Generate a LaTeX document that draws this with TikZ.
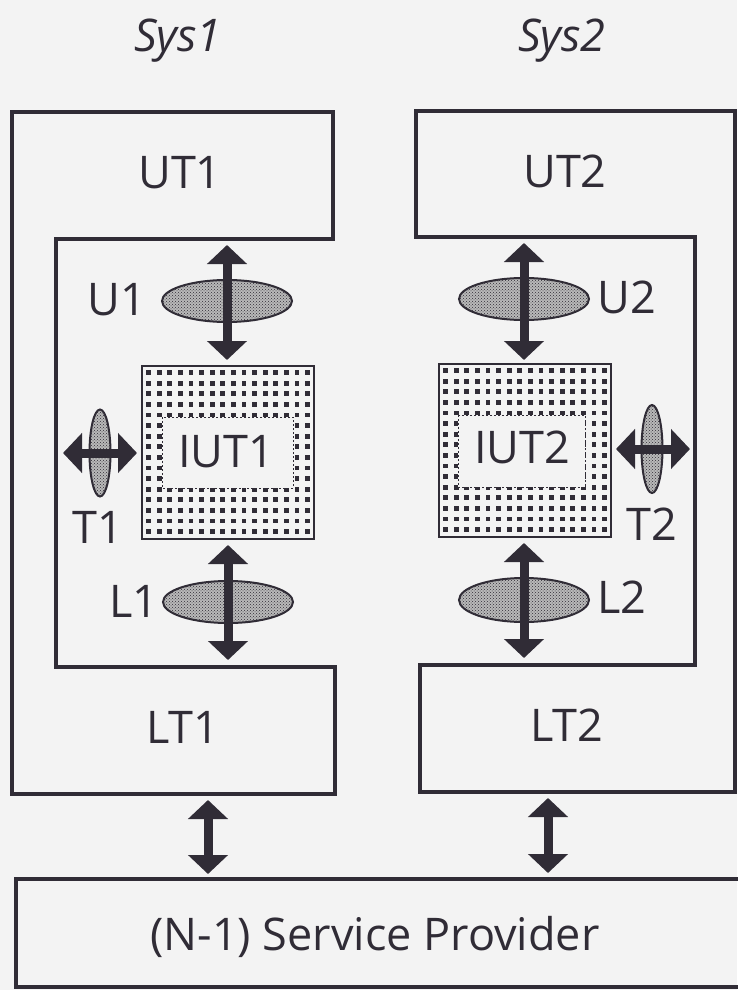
\documentclass[tikz,border=0pt]{standalone}
\usepackage{fontspec}
\setmainfont{Open Sans}
\usetikzlibrary{arrows.meta,patterns,shapes.geometric}
\definecolor{ink}{RGB}{48,44,54}
\definecolor{paper}{RGB}{243,243,243}
\begin{document}
\begin{tikzpicture}[x=1pt,y=-1pt,
  frame/.style={line width=3.5pt, draw=ink, line join=miter},
  lbl/.style={font=\fontsize{45}{50}\selectfont, text=ink, inner sep=0pt, anchor=base},
  syslbl/.style={font=\fontsize{45}{50}\selectfont\itshape, text=ink, inner sep=0pt, anchor=base},
  dblarrow/.style={line width=9pt, draw=ink, {Triangle[width=39pt,length=19pt]}-{Triangle[width=39pt,length=19pt]}},
  stipple/.style={ellipse, draw=ink, line width=2pt, inner sep=0pt,
     preaction={fill=gray!55}, pattern=crosshatch dots, pattern color=ink},
  iutbox/.style={draw=ink, line width=1.5pt, fill=paper},
  innerbox/.style={draw=ink, line width=0.8pt, dash pattern=on 2pt off 2pt, fill=paper}
]
\useasboundingbox (0,0) rectangle (737,990);
\fill[paper] (0,0) rectangle (737,990);

% system labels
\node[syslbl] (sys1) at (178,52) {Sys1};
\node[syslbl] (sys2) at (562,52) {Sys2};

% system outlines
\draw[frame] (12,112) -- (333,112) -- (333,239) -- (56,239) -- (56,667) -- (335,667) -- (335,794) -- (12,794) -- cycle;
\draw[frame] (416,111) -- (735,111) -- (735,792) -- (420,792) -- (420,665) -- (695,665) -- (695,237) -- (416,237) -- cycle;

% service provider
\draw[frame] (16,879) rectangle (760,987);
\node[lbl] (sp) at (375,950) {(N-1) Service Provider};

\node[lbl] (ut1) at (180,188) {UT1};
\node[lbl] (ut2) at (565,187) {UT2};
\node[lbl] (lt1) at (183,743) {LT1};
\node[lbl] (lt2) at (567,741) {LT2};

% IUT boxes
\draw[iutbox] (142,366) rectangle (314,539);
\foreach \i in {0,...,15}
  \foreach \j in {0,...,15}
    \fill[ink] ({148.5+\i*10.6-2.4},{372.5+\j*10.6-2.4}) rectangle ++(4.8,4.8);
\draw[innerbox] (162,417) rectangle (293,488);
\node[lbl] (iut1) at (226,467) {IUT1};

\draw[iutbox] (439,364) rectangle (611,537);
\foreach \i in {0,...,15}
  \foreach \j in {0,...,15}
    \fill[ink] ({445.5+\i*10.6-2.4},{370.5+\j*10.6-2.4}) rectangle ++(4.8,4.8);
\draw[innerbox] (458,415) rectangle (585,487);
\node[lbl] (iut2) at (522,463) {IUT2};

% points of control and observation
\node[stipple, minimum width=130pt, minimum height=42pt] (u1e) at (227,301) {};
\node[stipple, minimum width=130pt, minimum height=42pt] (l1e) at (228,602) {};
\node[stipple, minimum width=130pt, minimum height=42pt] (u2e) at (524,299) {};
\node[stipple, minimum width=130pt, minimum height=44pt] (l2e) at (524,600) {};
\node[stipple, minimum width=21pt, minimum height=87pt] (t1e) at (100,453) {};
\node[stipple, minimum width=21pt, minimum height=88pt] (t2e) at (652,449) {};

\node[lbl] (u1) at (117,315) {U1};
\node[lbl] (l1) at (134,617) {L1};
\node[lbl] (t1) at (98,543) {T1};
\node[lbl] (u2) at (627,313) {U2};
\node[lbl] (l2) at (622,613) {L2};
\node[lbl] (t2) at (652,540) {T2};

% arrow end points
\coordinate (u1a) at (227,245); \coordinate (u1b) at (227,360);
\coordinate (l1a) at (228,545); \coordinate (l1b) at (228,660);
\coordinate (u2a) at (524,243); \coordinate (u2b) at (524,360);
\coordinate (l2a) at (524,543); \coordinate (l2b) at (524,658);
\coordinate (t1a) at (63,453);  \coordinate (t1b) at (137,453);
\coordinate (t2a) at (616,449); \coordinate (t2b) at (690,449);
\coordinate (b1a) at (208,800); \coordinate (b1b) at (208,874);
\coordinate (b2a) at (548,798); \coordinate (b2b) at (548,873);

\draw[dblarrow] (u1a) -- (u1b);
\draw[dblarrow] (l1a) -- (l1b);
\draw[dblarrow] (u2a) -- (u2b);
\draw[dblarrow] (l2a) -- (l2b);
\draw[dblarrow] (t1a) -- (t1b);
\draw[dblarrow] (t2a) -- (t2b);
\draw[dblarrow] (b1a) -- (b1b);
\draw[dblarrow] (b2a) -- (b2b);
\end{tikzpicture}
\end{document}
